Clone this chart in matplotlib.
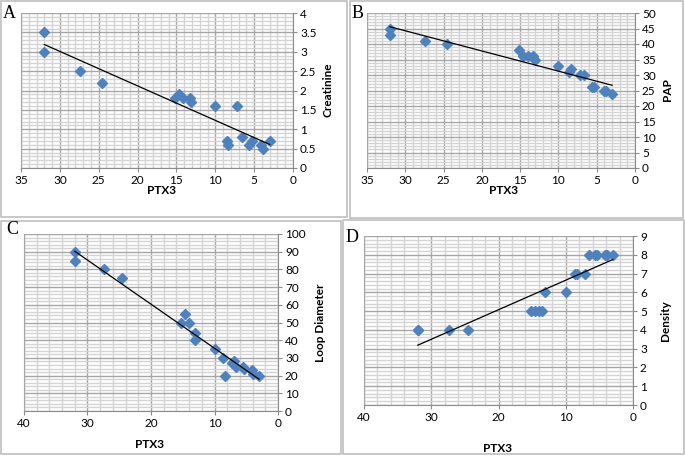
import numpy as np
import matplotlib
matplotlib.use("Agg")
import matplotlib.pyplot as plt
from matplotlib import patches
from matplotlib.ticker import MultipleLocator, FuncFormatter

# PTX3 values read per panel
ptx3_a = [32, 32, 27.4, 24.6, 15.2, 14.7, 14.2, 13.3, 13.1, 10, 7.2, 8.5, 8.3, 6.6, 5.6, 5.3, 4.1, 3.8, 3.0]
creat = [3.5, 3.0, 2.5, 2.2, 1.8, 1.9, 1.8, 1.8, 1.7, 1.6, 1.6, 0.7, 0.6, 0.8, 0.6, 0.7, 0.6, 0.5, 0.7]

ptx3_b = [32, 32, 27.4, 24.6, 15.2, 14.6, 14.0, 13.3, 13.1, 10, 8.6, 8.4, 7.2, 6.6, 5.6, 5.3, 4.1, 3.8, 3.0]
pap = [45, 43, 41, 40, 38, 36, 36, 36, 35, 33, 31, 32, 30, 30, 26, 26, 25, 25, 24]

ptx3_c = [32, 32, 27.4, 24.6, 15.2, 14.6, 14.0, 13.1, 13.1, 10, 8.6, 8.3, 7.2, 7.0, 6.6, 5.5, 5.3, 4.1, 3.9, 3.0]
loop = [90, 85, 80, 75, 50, 55, 50, 44, 40, 35, 30, 20, 27, 28, 25, 25, 24, 23, 21, 20]

ptx3_d = [32, 32, 27.4, 24.6, 15.2, 14.6, 14.0, 13.6, 13.1, 10, 8.6, 8.3, 7.2, 6.6, 5.6, 5.3, 4.1, 3.8, 3.0]
density = [4, 4, 4, 4, 5, 5, 5, 5, 6, 6, 7, 7, 7, 8, 8, 8, 8, 8, 8]

W, H = 685, 457
fig = plt.figure(figsize=(W / 100, H / 100), dpi=100)

def px_rect(x0, y0, x1, y1):
    return [x0 / W, 1 - y1 / H, (x1 - x0) / W, (y1 - y0) / H]

blue = '#4F81BD'
fmt = FuncFormatter(lambda v, p: '%g' % round(v, 6))

def panel(rect, x, y, xmax, xmaj, xmin, ymax, ymaj, ymin):
    ax = fig.add_axes(px_rect(*rect))
    ax.set_xlim(xmax, 0)
    ax.set_ylim(0, ymax)
    ax.xaxis.set_major_locator(MultipleLocator(xmaj))
    ax.xaxis.set_minor_locator(MultipleLocator(xmin))
    ax.yaxis.set_major_locator(MultipleLocator(ymaj))
    ax.yaxis.set_minor_locator(MultipleLocator(ymin))
    ax.xaxis.set_major_formatter(fmt)
    ax.yaxis.set_major_formatter(fmt)
    ax.grid(which='major', color='#A6A6A6', lw=1.0)
    ax.grid(which='minor', color='#D4D4D4', lw=1.0)
    ax.set_axisbelow(True)
    ax.yaxis.tick_right()
    ax.spines['top'].set_visible(False)
    ax.spines['left'].set_color('#A6A6A6')
    ax.spines['bottom'].set_color('#8C8C8C')
    ax.spines['right'].set_color('#8C8C8C')
    ax.tick_params(which='major', direction='out', length=3, color='#8C8C8C',
                   labelsize=8.5, pad=2)
    ax.tick_params(which='minor', length=0)
    for lab in ax.get_xticklabels() + ax.get_yticklabels():
        lab.set_family('Lato')
    ax.plot(x, y, 'D', color=blue, ms=5.2, mec=blue, zorder=3)
    k, b = np.polyfit(x, y, 1)
    xs = np.array([max(x), min(x)])
    ax.plot(xs, k * xs + b, color='black', lw=0.9, zorder=4)
    return ax

panel((21, 13, 293, 168), ptx3_a, creat, 35, 5, 1, 4, 0.5, 0.1)
panel((367, 13, 635, 168), ptx3_b, pap, 35, 5, 1, 50, 5, 1)
panel((24, 234, 278, 411), ptx3_c, loop, 40, 10, 2, 100, 10, 2)
panel((364, 236, 633, 405), ptx3_d, density, 40, 10, 2, 9, 1, 0.2)

def ftext(xp, yp, s, **kw):
    fig.text(xp / W, 1 - yp / H, s, **kw)

bold = dict(family='Lato', weight='bold', fontsize=8.5, ha='center', va='center')
ftext(328, 90, 'Creatinine', rotation=90, **bold)
ftext(668, 90, 'PAP', rotation=90, **bold)
ftext(320, 323, 'Loop Diameter', rotation=90, **bold)
ftext(665, 321, 'Density', rotation=90, **bold)
ftext(162, 191, 'PTX3', **bold)
ftext(503, 191, 'PTX3', **bold)
ftext(149, 445, 'PTX3', **bold)
ftext(497, 449, 'PTX3', **bold)

serif = dict(family='Liberation Serif', fontsize=13, ha='left', va='center')
ftext(3, 13, 'A', **serif)
ftext(352, 14, 'B', **serif)
ftext(6, 230, 'C', **serif)
ftext(346, 237, 'D', **serif)

# panel frames
for (x0, y0, x1, y1) in [(1, 1, 347, 217), (350, 1, 683, 218),
                         (1, 221, 341, 454), (343, 220, 684, 454)]:
    fig.add_artist(patches.Rectangle((x0 / W, 1 - y1 / H), (x1 - x0) / W, (y1 - y0) / H,
                                     transform=fig.transFigure, fill=False,
                                     edgecolor='#BFBFBF', lw=1.2))

fig.savefig('out.png', dpi=100)
